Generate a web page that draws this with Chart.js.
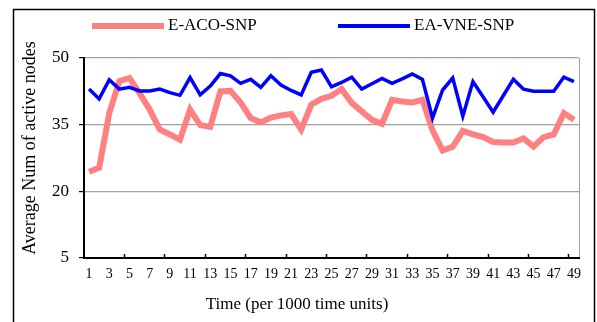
<!DOCTYPE html>
<html>
<head>
<meta charset="utf-8">
<script src="https://cdn.jsdelivr.net/npm/chart.js@4.4.1/dist/chart.umd.min.js"></script>
<style>
  html, body { margin: 0; padding: 0; background: #fff; }
  #wrap { position: relative; width: 597px; height: 322px; }
</style>
</head>
<body>
<div id="wrap"><canvas id="activeNodes"></canvas></div>
<script>
var timeLabels = [];
for (var t = 1; t <= 49; t++) timeLabels.push(String(t));

var acoValues = [24.4, 25.3, 37.6, 44.8, 45.5, 42.1, 38.4, 33.9, 32.8, 31.6,
                 38.4, 34.9, 34.5, 42.5, 42.6, 40.0, 36.5, 35.5, 36.6, 37.1,
                 37.4, 33.9, 39.5, 40.8, 41.5, 43.0, 39.9, 38.0, 36.1, 35.2,
                 40.6, 40.2, 40.0, 40.6, 33.7, 29.2, 30.0, 33.6, 32.8, 32.2,
                 31.1, 31.0, 31.0, 31.9, 30.1, 32.2, 32.8, 37.6, 36.1];

var vneValues = [43.0, 40.8, 45.1, 43.0, 43.4, 42.6, 42.6, 43.0, 42.2, 41.6,
                 45.6, 41.7, 43.7, 46.5, 46.0, 44.3, 45.2, 43.4, 46.0, 43.9,
                 42.7, 41.7, 46.8, 47.3, 43.5, 44.5, 45.7, 43.0, 44.2, 45.4,
                 44.3, 45.3, 46.4, 45.2, 36.5, 42.8, 45.5, 36.9, 44.7, 41.3,
                 37.8, 41.5, 45.2, 43.0, 42.5, 42.5, 42.5, 45.7, 44.7];

var yTicks = [5, 20, 35, 50];

var serif = "'Liberation Serif', 'Times New Roman', serif";

// frame, legend and axis titles drawn by hand to sit where the original has them
var decorations = {
    id: 'decorations',
    afterDraw: function(chart) {
        var ctx = chart.ctx;
        ctx.save();
        ctx.strokeStyle = '#000';
        ctx.lineWidth = 1.5;
        ctx.strokeRect(13.5, 9.5, 581, 340);

        var legendX = [92, 338];
        chart.data.datasets.forEach(function(ds, i) {
            ctx.strokeStyle = ds.borderColor;
            ctx.lineWidth = ds.legendWidth;
            ctx.beginPath();
            ctx.moveTo(legendX[i], 26);
            ctx.lineTo(legendX[i] + 72, 26);
            ctx.stroke();
            ctx.fillStyle = '#000';
            ctx.font = '17px ' + serif;
            ctx.textBaseline = 'middle';
            ctx.textAlign = 'left';
            ctx.fillText(ds.label, legendX[i] + 76, 26);
        });

        ctx.font = '17px ' + serif;
        ctx.textAlign = 'center';
        ctx.fillText('Time (per 1000 time units)', 297, 305);

        ctx.translate(30, 148);
        ctx.rotate(-Math.PI / 2);
        ctx.font = '18px ' + serif;
        ctx.fillText('Average Num of active nodes', 0, 0);
        ctx.restore();
    }
};

new Chart(document.getElementById('activeNodes'), {
    type: 'line',
    data: {
        labels: timeLabels,
        datasets: [{
            label: 'E-ACO-SNP',
            data: acoValues,
            borderColor: '#ff8080',
            borderWidth: 6,
            legendWidth: 6,
            pointRadius: 0,
            tension: 0,
            order: 1
        }, {
            label: 'EA-VNE-SNP',
            data: vneValues,
            borderColor: '#0000ff',
            borderWidth: 3.5,
            legendWidth: 4,
            pointRadius: 0,
            tension: 0,
            order: 0
        }]
    },
    options: {
        responsive: true,
        maintainAspectRatio: false,
        animation: false,
        layout: { padding: { top: 58, right: 18, left: 0, bottom: 0 } },
        plugins: {
            legend: { display: false },
            tooltip: { enabled: false }
        },
        scales: {
            x: {
                offset: true,
                afterFit: function(scale) { scale.height = 64; },
                border: { color: '#000', width: 2 },
                grid: {
                    offset: true,
                    tickLength: -4,
                    color: function(c) {
                        return c.type === 'scale' ? '#a0a0a0' : 'rgba(0,0,0,0)';
                    },
                    tickColor: function(c) {
                        return (c.index > 0 && c.index % 4 === 0) ? '#000' : 'rgba(0,0,0,0)';
                    },
                    tickWidth: 1.5
                },
                ticks: {
                    autoSkip: false,
                    maxRotation: 0,
                    padding: 12,
                    color: '#000',
                    font: { family: serif, size: 14 },
                    callback: function(val, i) {
                        return i % 2 === 0 ? timeLabels[i] : '';
                    }
                }
            },
            y: {
                min: 5,
                max: 50,
                afterFit: function(scale) { scale.width = 84; },
                afterBuildTicks: function(scale) {
                    scale.ticks = yTicks.map(function(v) { return { value: v }; });
                },
                border: { color: '#000', width: 2 },
                grid: {
                    color: '#a0a0a0',
                    lineWidth: 1.2,
                    tickColor: '#000',
                    tickLength: 5
                },
                ticks: {
                    padding: 10,
                    color: '#000',
                    font: { family: serif, size: 17 }
                }
            }
        }
    },
    plugins: [decorations]
});
</script>
</body>
</html>
